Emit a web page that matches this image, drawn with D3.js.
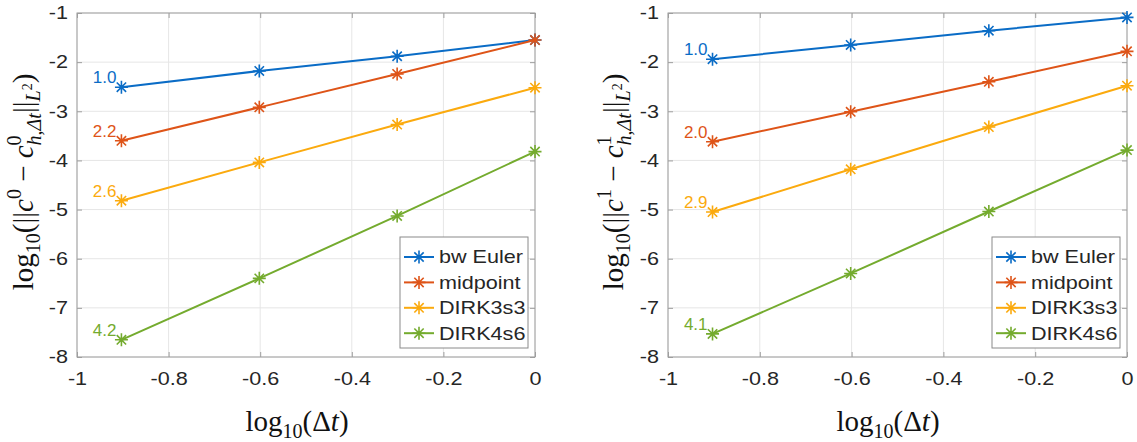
<!DOCTYPE html>
<html lang="en">
<head>
<meta charset="UTF-8">
<script src="https://d3js.org/d3.v7.min.js"></script>
<title>Convergence</title>
<style>
  body { margin: 0; background: #fff; }
  svg text { font-family: "Liberation Sans", Helvetica, Arial, sans-serif; fill: #262626; }
  svg text.math { font-family: "Liberation Serif", "Times New Roman", serif; fill: #111; }
</style>
</head>
<body>
<svg id="chart" width="1137" height="442"></svg>
<script>
// x values: log10(dt) for dt = 1/8, 1/4, 1/2, 1
const logDt = [-0.903, -0.602, -0.301, 0];
const methods = ["bw Euler", "midpoint", "DIRK3s3", "DIRK4s6"];
const colors = ["#0a6cc6", "#de5418", "#fbaa0e", "#74ab2e"];
const xTicks = [-1, -0.8, -0.6, -0.4, -0.2, 0];
const yTicks = [-8, -7, -6, -5, -4, -3, -2, -1];

// log10 errors, c^0
const c0Euler = [-2.51, -2.18, -1.88, -1.55];
const c0Mid = [-3.60, -2.92, -2.24, -1.55];
const c0Dirk3 = [-4.82, -4.04, -3.27, -2.52];
const c0Dirk4 = [-7.65, -6.40, -5.13, -3.82];
const c0Rates = ["1.0", "2.2", "2.6", "4.2"];

// log10 errors, c^1
const c1Euler = [-1.94, -1.65, -1.36, -1.09];
const c1Mid = [-3.62, -3.01, -2.40, -1.78];
const c1Dirk3 = [-5.05, -4.18, -3.32, -2.48];
const c1Dirk4 = [-7.53, -6.30, -5.04, -3.79];
const c1Rates = ["1.0", "2.0", "2.9", "4.1"];

const SX = 1.2; // horizontal stretch of the sans labels
const svg = d3.select("#chart");

const panels = [
  { box: [77, 13, 535, 357], series: [c0Euler, c0Mid, c0Dirk3, c0Dirk4], rates: c0Rates, sup: "0",
    yLab: [33, 182], xLab: [297, 431] },
  { box: [668, 13, 1127, 357], series: [c1Euler, c1Mid, c1Dirk3, c1Dirk4], rates: c1Rates, sup: "1",
    yLab: [623, 182], xLab: [888, 431] }
];

function stretch(sel) {
  sel.each(function () {
    const t = d3.select(this);
    const x = +t.attr("x") || 0;
    t.attr("x", x / SX).attr("transform", `scale(${SX},1)`);
  });
}

function asterisk(r) {
  const a = r * 0.72;
  return `M0,${-r}L0,${r}M${-r},0L${r},0M${-a},${-a}L${a},${a}M${-a},${a}L${a},${-a}`;
}

function draw(p) {
  const [x0, y0, x1, y1] = p.box;
  const w = x1 - x0, h = y1 - y0;
  const x = d3.scaleLinear().domain([-1, 0]).range([0, w]);
  const y = d3.scaleLinear().domain([-8, -1]).range([h, 0]);
  const g = svg.append("g").attr("transform", `translate(${x0},${y0})`);

  // grid
  g.append("g").selectAll("line").data(xTicks).join("line")
    .attr("x1", d => x(d)).attr("x2", d => x(d)).attr("y1", 0).attr("y2", h)
    .attr("stroke", "#e6e6e6");
  g.append("g").selectAll("line").data(yTicks).join("line")
    .attr("y1", d => y(d)).attr("y2", d => y(d)).attr("x1", 0).attr("x2", w)
    .attr("stroke", "#e6e6e6");

  const fmt = d => String(+d.toFixed(1));
  const axes = [
    [d3.axisBottom(x).tickValues(xTicks).tickFormat(fmt).tickPadding(15), `translate(0,${h})`],
    [d3.axisTop(x).tickValues(xTicks).tickFormat(""), null],
    [d3.axisLeft(y).tickValues(yTicks).tickFormat(fmt).tickPadding(9), null],
    [d3.axisRight(y).tickValues(yTicks).tickFormat(""), `translate(${w},0)`]
  ];
  axes.forEach(([ax, tr]) => {
    const a = g.append("g").call(ax.tickSize(-5).tickSizeOuter(0))
      .attr("font-size", 18);
    if (tr) a.attr("transform", tr);
    a.select(".domain").remove();
    a.selectAll(".tick line").attr("stroke", "#9e9e9e");
    stretch(a.selectAll(".tick text"));
  });
  g.append("rect").attr("width", w).attr("height", h)
    .attr("fill", "none").attr("stroke", "#9e9e9e");

  // series
  const line = d3.line().x((d, i) => x(logDt[i])).y(d => y(d));
  p.series.forEach((vals, k) => {
    g.append("path").attr("d", line(vals)).attr("fill", "none")
      .attr("stroke", colors[k]).attr("stroke-width", 2);
    g.append("g").selectAll("path").data(vals).join("path")
      .attr("transform", (d, i) => `translate(${x(logDt[i])},${y(d)})`)
      .attr("d", asterisk(6.5)).attr("stroke", colors[k]).attr("stroke-width", 1.6)
      .attr("fill", "none");
    g.append("text").attr("x", x(logDt[0]) - 5).attr("y", y(vals[0]) - 4)
      .attr("text-anchor", "end").attr("font-size", 17)
      .style("fill", colors[k]).text(p.rates[k]);
  });

  // legend
  const lw = 128, lh = 111;
  const lg = g.append("g").attr("transform", `translate(${w - 7 - lw},${h - 9 - lh})`);
  lg.append("rect").attr("width", lw).attr("height", lh)
    .attr("fill", "#fff").attr("stroke", "#8a8a8a");
  methods.forEach((m, k) => {
    const yy = 20 + k * 25.4;
    lg.append("line").attr("x1", 4).attr("x2", 34).attr("y1", yy).attr("y2", yy)
      .attr("stroke", colors[k]).attr("stroke-width", 2);
    lg.append("path").attr("transform", `translate(19,${yy})`).attr("d", asterisk(6.5))
      .attr("stroke", colors[k]).attr("stroke-width", 1.6);
    const t = lg.append("text").attr("x", 39).attr("y", yy).attr("dy", "0.36em")
      .attr("font-size", 18).text(m);
    stretch(t);
  });

  // y label
  const yl = svg.append("text").attr("class", "math").attr("font-size", 29)
    .attr("text-anchor", "middle")
    .attr("transform", `translate(${p.yLab[0]},${p.yLab[1]}) rotate(-90)`);
  const parts = [
    ["log", {}], ["10", { fs: 20, dy: 7 }], ["(||", { dy: -7 }], ["c", { it: 1 }],
    [p.sup, { fs: 20, dy: -12 }], [" \u2212 ", { dy: 12 }], ["c", { it: 1 }],
    [p.sup, { fs: 20, dy: -12 }], ["h,\u0394t", { fs: 20, dy: 20, dx: -10, it: 1 }],
    ["||", { dy: -8 }], ["L", { fs: 20, dy: 7, it: 1 }], ["2", { fs: 14, dy: -8 }], [")", { dy: 1 }]
  ];
  parts.forEach(([s, o]) => {
    const ts = yl.append("tspan").text(s);
    if (o.fs) ts.attr("font-size", o.fs);
    if (o.dy) ts.attr("dy", o.dy);
    if (o.dx) ts.attr("dx", o.dx);
    if (o.it) ts.attr("font-style", "italic");
  });

  // x label
  const xl = svg.append("text").attr("class", "math").attr("font-size", 29)
    .attr("text-anchor", "middle").attr("x", p.xLab[0]).attr("y", p.xLab[1]);
  xl.append("tspan").text("log");
  xl.append("tspan").attr("font-size", 20).attr("dy", 7).text("10");
  xl.append("tspan").attr("dy", -7).text("(\u0394");
  xl.append("tspan").attr("font-style", "italic").text("t");
  xl.append("tspan").text(")");
}

panels.forEach(draw);
</script>
</body>
</html>
